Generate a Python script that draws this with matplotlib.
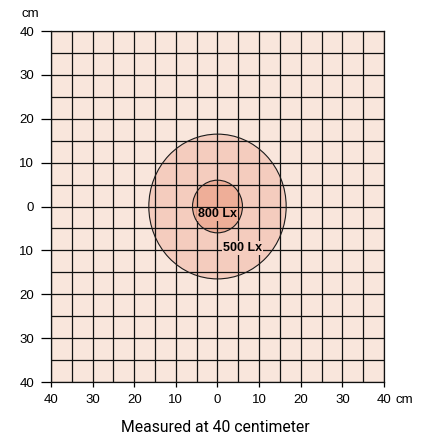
#!/usr/bin/env python3
"""Light spot diagram: illuminance rings measured at 40 cm."""

import matplotlib

matplotlib.use("Agg")
import matplotlib.pyplot as plt
from matplotlib.patches import Circle
from matplotlib.transforms import ScaledTranslation

# data
ring_labels = ["500 Lx", "800 Lx"]
ring_radii = [16.5, 6.0]
ring_colors = ["#f4ccbe", "#eeae98"]
label_x = [6.0, 0.0]
label_y = [-9.5, -1.8]

major_ticks = [-40, -30, -20, -10, 0, 10, 20, 30, 40]
minor_ticks = [-35, -25, -15, -5, 5, 15, 25, 35]
tick_labels = [str(abs(v)) for v in major_ticks]

BACKGROUND = "#f9e6dc"


def main() -> int:
    plt.rcParams["font.family"] = ["Liberation Sans", "DejaVu Sans"]
    fig = plt.figure(figsize=(4.3, 4.4), dpi=100)
    ax = fig.add_axes([0.1186, 0.1318, 0.7744, 0.7977])
    ax.set_facecolor(BACKGROUND)
    ax.set_xlim(-40, 40)
    ax.set_ylim(-40, 40)

    for radius, color in zip(ring_radii, ring_colors):
        ax.add_patch(Circle((0, 0), radius, facecolor=color, edgecolor="none", zorder=1))
    for radius in ring_radii:
        ax.add_patch(Circle((0, 0), radius, facecolor="none", edgecolor="#1a1a1a",
                            linewidth=0.8, zorder=2.6))

    for text, x, y, color in zip(ring_labels, label_x, label_y, ring_colors):
        ax.text(x, y, text, ha="center", va="center", fontsize=9, fontweight="bold",
                zorder=4, bbox=dict(facecolor=color, edgecolor="none", pad=0.6))

    ax.set_xticks(major_ticks)
    ax.set_yticks(major_ticks)
    ax.set_xticks(minor_ticks, minor=True)
    ax.set_yticks(minor_ticks, minor=True)
    ax.set_xticklabels(tick_labels)
    ax.set_yticklabels(tick_labels)
    ax.grid(True, which="both", color="#111111", linewidth=0.9)
    ax.tick_params(axis="y", which="major", length=7.2, width=0.9, labelsize=9.5, pad=5)
    ax.tick_params(axis="x", which="major", length=3.5, width=0.9, labelsize=9.5, pad=5)
    ax.tick_params(which="minor", length=0)
    for spine in ax.spines.values():
        spine.set_color("#111111")
        spine.set_linewidth(0.9)

    # unit after the last x tick label
    last = ax.get_xticklabels()[-1]
    offset = ScaledTranslation(8 / 72, 0, fig.dpi_scale_trans)
    ax.text(40, 0, "cm", transform=last.get_transform() + offset, ha="left",
            va=last.get_va(), fontsize=9.5)

    fig.text(30 / 430, 1 - 14 / 440, "cm", ha="center", va="center", fontsize=9.5)
    fig.text(0.5, 1 - 427 / 440, "Measured at 40 centimeter", ha="center", va="center",
             fontsize=11.3, family=["Roboto", "DejaVu Sans"])

    fig.savefig("out.png", dpi=100)
    plt.close(fig)
    return 0


if __name__ == "__main__":
    raise SystemExit(main())
